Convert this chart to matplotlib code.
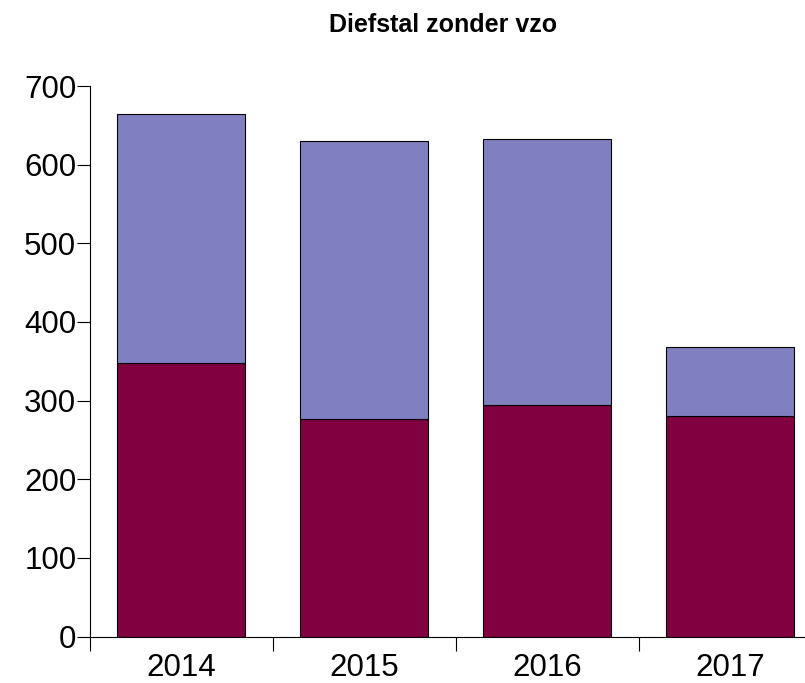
import matplotlib
matplotlib.use("Agg")
import matplotlib.pyplot as plt
import numpy as np

plt.rcParams['font.family'] = ['Liberation Sans', 'DejaVu Sans']

years = ["2014", "2015", "2016", "2017"]
bottom_vals = [348, 277, 295, 281]
totals = [665, 630, 633, 368]
top_vals = [t - b for t, b in zip(totals, bottom_vals)]
yticks = [0, 100, 200, 300, 400, 500, 600, 700]

fig = plt.figure(figsize=(8.05, 6.83), dpi=100)
ax = fig.add_axes([89.5/805, (683-636.5)/683, 732/805, (636.5-86)/683])

x = np.arange(len(years))
w = 0.696
ax.bar(x, bottom_vals, width=w, color="#800040", edgecolor="black", linewidth=0.8)
ax.bar(x, top_vals, width=w, bottom=bottom_vals, color="#8080C0", edgecolor="black", linewidth=0.8)

ax.set_xlim(-0.5, 3.5)
ax.set_ylim(0, 700)
ax.set_yticks(yticks)
ax.set_yticklabels([str(v) for v in yticks], fontsize=22.5)
ax.tick_params(axis='y', length=9.5, width=0.8, pad=0, direction='out')

ax.set_xticks(np.arange(-0.5, 3.5, 1.0))
ax.set_xticklabels([])
ax.tick_params(axis='x', which='major', length=10, width=0.8, direction='out')
ax.set_xticks(x, minor=True)
ax.set_xticklabels(years, minor=True, fontsize=22.5)
ax.tick_params(axis='x', which='minor', length=0, pad=12)

for s in ["top", "right"]:
    ax.spines[s].set_visible(False)
for s in ["left", "bottom"]:
    ax.spines[s].set_linewidth(0.8)

fig.text(443/805, 1 - 25/683, "Diefstal zonder vzo", ha="center", va="center",
         fontsize=18, fontweight="bold")

fig.savefig("out.png", dpi=100)
